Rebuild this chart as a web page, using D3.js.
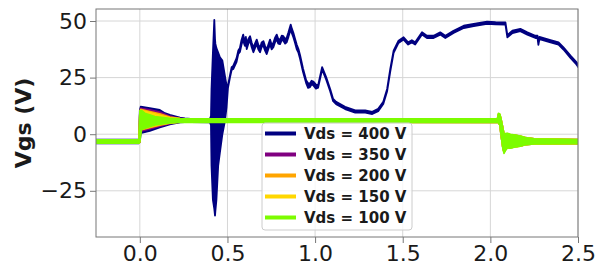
<!DOCTYPE html>
<html>
<head>
<meta charset="utf-8">
<script src="https://cdn.jsdelivr.net/npm/d3@7"></script>
<style>
  html, body { margin: 0; padding: 0; background: #fff; }
  svg { display: block; }
</style>
</head>
<body>
<svg id="chart" width="603" height="265"></svg>
<script>
// ---- Data (time in µs, Vgs in V); each point: [t, low envelope, high envelope]
const xTicks = [0, 0.5, 1.0, 1.5, 2.0, 2.5];
const yTicks = [-25, 0, 25, 50];
const seriesNames = ["Vds = 400 V", "Vds = 350 V", "Vds = 200 V", "Vds = 150 V", "Vds = 100 V"];

const vds400 = [
  [-0.25, -4.0, -2.4], [-0.005, -4.0, -2.4], [0.0, -3.5, 10.5], [0.005, 0.5, 12.2],
  [0.057, 1.5, 11.5], [0.114, 3.0, 10.7], [0.143, 3.7, 9.3], [0.171, 4.3, 8.5],
  [0.229, 5.2, 7.3], [0.257, 5.3, 7.0], [0.29, 5.3, 6.8], [0.40, 5.2, 6.8],
  [0.406, 4, 8], [0.409, -14, 20], [0.417, -29, 36], [0.425, -33, 50.5],
  [0.429, -36, 42], [0.431, -34, 40], [0.437, -29, 38], [0.447, -14, 36],
  [0.457, -8, 34], [0.471, 0, 32.5], [0.486, 6, 25.5], [0.495, 12, 21.5],
  [0.503, 20.5, 21.5], [0.514, 24.9, 25.9], [0.524, 28.4, 29.6], [0.533, 28.8, 30.2],
  [0.552, 32.0, 33.6], [0.562, 35.5, 37.0], [0.571, 36.3, 38.1], [0.580, 39.5, 41.5],
  [0.590, 42.0, 44.0], [0.595, 40.0, 42.0], [0.600, 39.0, 41.0], [0.605, 41.0, 43.0],
  [0.610, 37.6, 39.6], [0.619, 40.0, 42.0], [0.629, 41.3, 43.3], [0.638, 38.5, 40.5],
  [0.648, 36.2, 38.2], [0.657, 38.0, 40.0], [0.667, 39.8, 41.8], [0.676, 37.5, 39.5],
  [0.686, 36.2, 38.2], [0.695, 38.5, 40.5], [0.705, 39.1, 41.1], [0.714, 37.0, 39.0],
  [0.724, 35.4, 37.4], [0.733, 37.5, 39.5], [0.743, 39.8, 41.8], [0.752, 37.5, 39.5],
  [0.762, 38.4, 40.4], [0.771, 40.5, 42.5], [0.781, 42.0, 44.0], [0.790, 40.0, 42.0],
  [0.800, 39.8, 41.8], [0.810, 41.5, 43.5], [0.819, 41.3, 43.3], [0.829, 40.0, 42.0],
  [0.838, 40.6, 42.6], [0.848, 43.0, 45.0], [0.861, 46.4, 48.4], [0.868, 44.5, 46.5],
  [0.876, 42.8, 44.8], [0.885, 40.5, 42.3], [0.895, 37.6, 39.6], [0.905, 36.0, 37.6],
  [0.914, 33.4, 35.0], [0.931, 27.6, 29.0], [0.949, 22.6, 23.8], [0.960, 20.5, 22.5],
  [0.971, 20.8, 22.4], [0.980, 22.0, 23.6], [0.989, 21.7, 23.3], [1.005, 20.1, 21.9],
  [1.017, 20.5, 21.5], [1.04, 28.6, 29.6], [1.063, 24.2, 25.2], [1.086, 19.0, 20.0],
  [1.103, 14.6, 15.6], [1.12, 13.3, 14.3], [1.171, 11.1, 12.1], [1.229, 9.5, 10.5],
  [1.286, 9.5, 10.5], [1.326, 8.9, 9.9], [1.36, 10.2, 11.2], [1.389, 13.3, 14.3],
  [1.411, 19.0, 20.0], [1.429, 27.8, 28.8], [1.448, 35.9, 36.9], [1.476, 40.3, 41.3],
  [1.505, 41.8, 42.8], [1.531, 39.6, 40.6], [1.552, 40.5, 41.5], [1.571, 39.6, 40.6],
  [1.61, 44.0, 45.0], [1.638, 42.5, 43.5], [1.676, 42.5, 43.5], [1.714, 44.0, 45.0],
  [1.743, 42.5, 43.5], [1.79, 44.7, 45.7], [1.848, 46.9, 47.9], [1.905, 47.7, 48.7],
  [1.981, 48.7, 49.7], [2.03, 48.5, 49.5], [2.086, 48.4, 49.4], [2.097, 42.8, 43.8],
  [2.126, 44.7, 45.7], [2.171, 45.5, 46.5], [2.211, 44.0, 45.0], [2.257, 42.5, 43.5],
  [2.269, 42.5, 43.5], [2.274, 39.5, 40.5], [2.28, 42.0, 43.0], [2.343, 40.6, 41.6],
  [2.389, 39.6, 40.6], [2.417, 37.4, 38.4], [2.457, 33.7, 34.7], [2.491, 30.8, 31.8],
  [2.503, 29.5, 30.5]
];

const vds350 = [
  [-0.25, -4.0, -2.4], [-0.005, -4.0, -2.4], [0.0, -3.5, 10.0], [0.005, 1.3, 11.5],
  [0.057, 2.3, 10.8], [0.114, 3.5, 9.8], [0.171, 4.6, 8.0], [0.229, 5.3, 7.0],
  [0.26, 5.3, 6.8], [2.04, 5.2, 6.8], [2.046, 5.0, 8.8], [2.054, 4.0, 8.6],
  [2.06, 0, 7.0], [2.071, -6, 3], [2.078, -8.0, 0], [2.086, -7, 0.2],
  [2.097, -6.0, 0.2], [2.114, -6.0, -0.2], [2.143, -5.5, -0.5], [2.171, -5.2, -0.9],
  [2.2, -4.7, -1.5], [2.25, -4.3, -2.0], [2.5, -4.2, -2.3]
];

const vds200 = [
  [-0.25, -4.0, -2.4], [-0.005, -4.0, -2.4], [0.0, -3.5, 10.0], [0.005, 1.8, 11.0],
  [0.057, 2.8, 10.0], [0.114, 3.9, 9.0], [0.171, 4.8, 7.6], [0.229, 5.4, 6.9],
  [0.26, 5.3, 6.8], [2.04, 5.2, 6.8], [2.046, 5.0, 8.9], [2.054, 4.0, 8.7],
  [2.06, 0, 7.1], [2.071, -6, 3], [2.078, -8.1, 0], [2.086, -7, 0.2],
  [2.097, -6.0, 0.2], [2.114, -6.0, -0.2], [2.143, -5.5, -0.5], [2.171, -5.2, -0.9],
  [2.2, -4.7, -1.5], [2.25, -4.3, -2.0], [2.5, -4.2, -2.3]
];

const vds150 = [
  [-0.25, -4.0, -2.4], [-0.005, -4.0, -2.4], [0.0, -3.5, 10.0], [0.005, 2.2, 10.6],
  [0.057, 3.2, 9.6], [0.114, 4.3, 8.4], [0.171, 5.0, 7.3], [0.229, 5.4, 6.9],
  [0.26, 5.3, 6.8], [2.04, 5.2, 6.8], [2.046, 5.0, 9.0], [2.054, 4.0, 8.8],
  [2.06, 0, 7.2], [2.071, -6, 3], [2.078, -8.2, 0], [2.086, -7, 0.2],
  [2.097, -6.0, 0.3], [2.114, -6.1, -0.1], [2.143, -5.6, -0.4], [2.171, -5.3, -0.8],
  [2.2, -4.7, -1.4], [2.25, -4.3, -2.0], [2.5, -4.2, -2.3]
];

const vds100 = [
  [-0.25, -4.0, -2.4], [-0.005, -4.0, -2.4], [0.0, -3.5, 10.5], [0.01, 2.0, 10.5],
  [0.029, 2.6, 9.3], [0.086, 4.1, 7.8], [0.171, 5.0, 7.0], [0.23, 5.2, 6.8],
  [2.04, 5.2, 6.8], [2.046, 5.0, 9.3], [2.054, 4.0, 9.0], [2.06, 0, 7.3],
  [2.071, -6.5, 3], [2.078, -8.5, 0], [2.086, -7.2, 0.3], [2.097, -6.0, 0.4],
  [2.114, -6.2, 0], [2.143, -5.7, -0.3], [2.171, -5.3, -0.8], [2.2, -4.7, -1.4],
  [2.25, -4.3, -2.0], [2.5, -4.2, -2.3]
];

const seriesData = [vds400, vds350, vds200, vds150, vds100];
const seriesColors = ["#000080", "#800080", "#FFA500", "#FFD700", "#7CFC00"];

// ---- Layout
const svg = d3.select("#chart");
const margin = { left: 96, right: 25, top: 9, bottom: 28 };
const W = 603, H = 265;
const x = d3.scaleLinear().domain([-0.25, 2.5]).range([margin.left, W - margin.right]);
const y = d3.scaleLinear().domain([-45.4, 55.3]).range([H - margin.bottom, margin.top]);
const font = "'DejaVu Sans', sans-serif";

svg.append("defs").append("clipPath").attr("id", "plotClip")
  .append("rect").attr("x", x.range()[0]).attr("y", y.range()[1])
  .attr("width", x.range()[1] - x.range()[0]).attr("height", y.range()[0] - y.range()[1]);

// grid
const grid = svg.append("g");
grid.selectAll(".gx").data(xTicks).join("line")
  .attr("x1", d => x(d)).attr("x2", d => x(d))
  .attr("y1", y.range()[0]).attr("y2", y.range()[1])
  .attr("stroke", "#d6d6d6").attr("stroke-width", 1);
grid.selectAll(".gy").data(yTicks).join("line")
  .attr("x1", x.range()[0]).attr("x2", x.range()[1])
  .attr("y1", d => y(d)).attr("y2", d => y(d))
  .attr("stroke", "#d6d6d6").attr("stroke-width", 1);

// series
const area = d3.area().x(d => x(d[0])).y0(d => y(d[1])).y1(d => y(d[2]));
const plot = svg.append("g").attr("clip-path", "url(#plotClip)");
seriesData.forEach((data, i) => {
  plot.append("path").datum(data)
    .attr("d", area)
    .attr("fill", seriesColors[i])
    .attr("stroke", seriesColors[i])
    .attr("stroke-width", i === 0 ? 1.8 : 1.5)
    .attr("stroke-linejoin", "round");
});

// axes
const xAxis = svg.append("g").attr("transform", `translate(0,${y.range()[0]})`)
  .call(d3.axisBottom(x).tickValues(xTicks).tickFormat(d3.format(".1f")).tickSize(6).tickPadding(2).tickSizeOuter(0));
const yAxis = svg.append("g").attr("transform", `translate(${x.range()[0]},0)`)
  .call(d3.axisLeft(y).tickValues(yTicks).tickFormat(d3.format("d")).tickSize(6).tickPadding(3).tickSizeOuter(0));
[xAxis, yAxis].forEach(a => {
  a.select(".domain").remove();
  a.selectAll(".tick line").attr("stroke", "#777");
  a.selectAll(".tick text").attr("font-family", font).attr("font-size", 22).attr("fill", "#1a1a1a");
});

// spines
svg.append("rect")
  .attr("x", x.range()[0]).attr("y", y.range()[1])
  .attr("width", x.range()[1] - x.range()[0]).attr("height", y.range()[0] - y.range()[1])
  .attr("fill", "none").attr("stroke", "#777").attr("stroke-width", 1);

// y label
svg.append("text")
  .attr("transform", `translate(31,${(y.range()[0] + y.range()[1]) / 2}) rotate(-90)`)
  .attr("text-anchor", "middle")
  .attr("font-family", font).attr("font-size", 22).attr("font-weight", "bold")
  .attr("fill", "#1a1a1a")
  .text("Vgs (V)");

// legend
const lg = svg.append("g").attr("transform", "translate(262,123)");
lg.append("rect").attr("width", 150).attr("height", 107).attr("rx", 3)
  .attr("fill", "#fff").attr("fill-opacity", 0.8).attr("stroke", "#cccccc");
seriesNames.forEach((name, i) => {
  const row = lg.append("g").attr("transform", `translate(0,${10.5 + i * 21})`);
  row.append("line").attr("x1", 3).attr("x2", 34).attr("y1", 0).attr("y2", 0)
    .attr("stroke", seriesColors[i]).attr("stroke-width", 4);
  row.append("text").attr("x", 42).attr("y", 0).attr("dy", "0.36em")
    .attr("font-family", font).attr("font-size", 15).attr("font-weight", "bold")
    .attr("fill", "#1a1a1a").text(name);
});
</script>
</body>
</html>
